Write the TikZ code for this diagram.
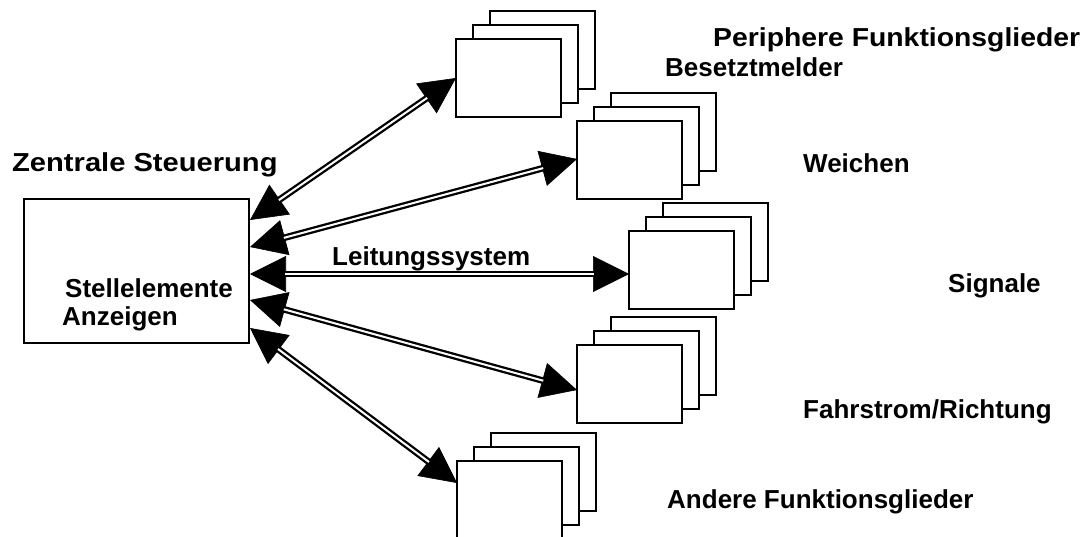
\documentclass[tikz,border=0pt]{standalone}
\usepackage{fontspec}
\usepackage{graphicx}
\setmainfont{Liberation Sans}
\usetikzlibrary{arrows.meta,calc}
\newcommand\lbfont{\fontsize{26}{30}\selectfont\bfseries}
\tikzset{
  box/.style={draw, line width=2.4pt, fill=white, minimum width=105pt, minimum height=78pt,
    inner sep=0pt, outer sep=0pt, anchor=north west},
  lbl/.style={anchor=base west, inner sep=0pt, font=\lbfont},
  tips/.style={line width=0.6pt, {Triangle[length=36pt,width=36pt]}-{Triangle[length=36pt,width=36pt]}},
  dbl/.style={line width=2.3pt, double=white, double distance=2pt, shorten <=35pt, shorten >=35pt},
}
\newcommand\stackbox[3]{%
  \node[box] (#3-b) at (#1+34,#2-28) {};
  \node[box] (#3-m) at (#1+17,#2-14) {};
  \node[box] (#3) at (#1,#2) {};
}
\begin{document}
\begin{tikzpicture}[x=1pt,y=-1pt]
\useasboundingbox (0,0) rectangle (1091,537);
\fill[white] (0,0) rectangle (1091,537);

% central box
\node[draw, line width=2.4pt, minimum width=225pt, minimum height=144pt, inner sep=0pt,
  outer sep=0pt, anchor=north west] (zs) at (24,199) {};

% stacks
\stackbox{456}{39}{bm}
\stackbox{577}{121}{wc}
\stackbox{629}{231}{sg}
\stackbox{577}{345}{fr}
\stackbox{457}{461}{an}

% connector end points
\coordinate (z1) at ($(zs.north east)+(1,21)$);
\coordinate (z2) at ($(zs.north east)+(1,48)$);
\coordinate (z3) at ($(zs.north east)+(1,75)$);
\coordinate (z4) at ($(zs.north east)+(1,101)$);
\coordinate (z5) at ($(zs.north east)+(1,129)$);
\coordinate (p1) at (bm.west);
\coordinate (p2) at ($(wc.west)+(0,-1)$);
\coordinate (p3) at ($(sg.west)+(0,4)$);
\coordinate (p4) at ($(fr.west)+(0,6)$);
\coordinate (p5) at ($(an.north west)+(0,22)$);

% arrow tips first, then double shafts
\foreach \i in {1,...,5} {
  \draw[tips] (z\i) -- (p\i);
}
\foreach \i in {1,...,5} {
  \draw[dbl] (z\i) -- (p\i);
}

% labels
\node[lbl] (t1) at (12,172) {\scalebox{1.12}[1]{Zentrale Steuerung}};
\node[lbl] (t2) at (713,47) {\scalebox{1.09}[1]{Periphere Funktionsglieder}};
\node[lbl] (t3) at (665,77) {Besetztmelder};
\node[lbl] (t4) at (803,173) {Weichen};
\node[lbl] (t5) at (948,292) {Signale};
\node[lbl] (t6) at (332,265) {Leitungssystem};
\node[lbl] (t7) at (65,297) {Stellelemente};
\node[lbl] (t8) at (62,325) {Anzeigen};
\node[lbl] (t9) at (803,418) {Fahrstrom/Richtung};
\node[lbl] (t10) at (667,508) {Andere Funktionsglieder};
\end{tikzpicture}
\end{document}
